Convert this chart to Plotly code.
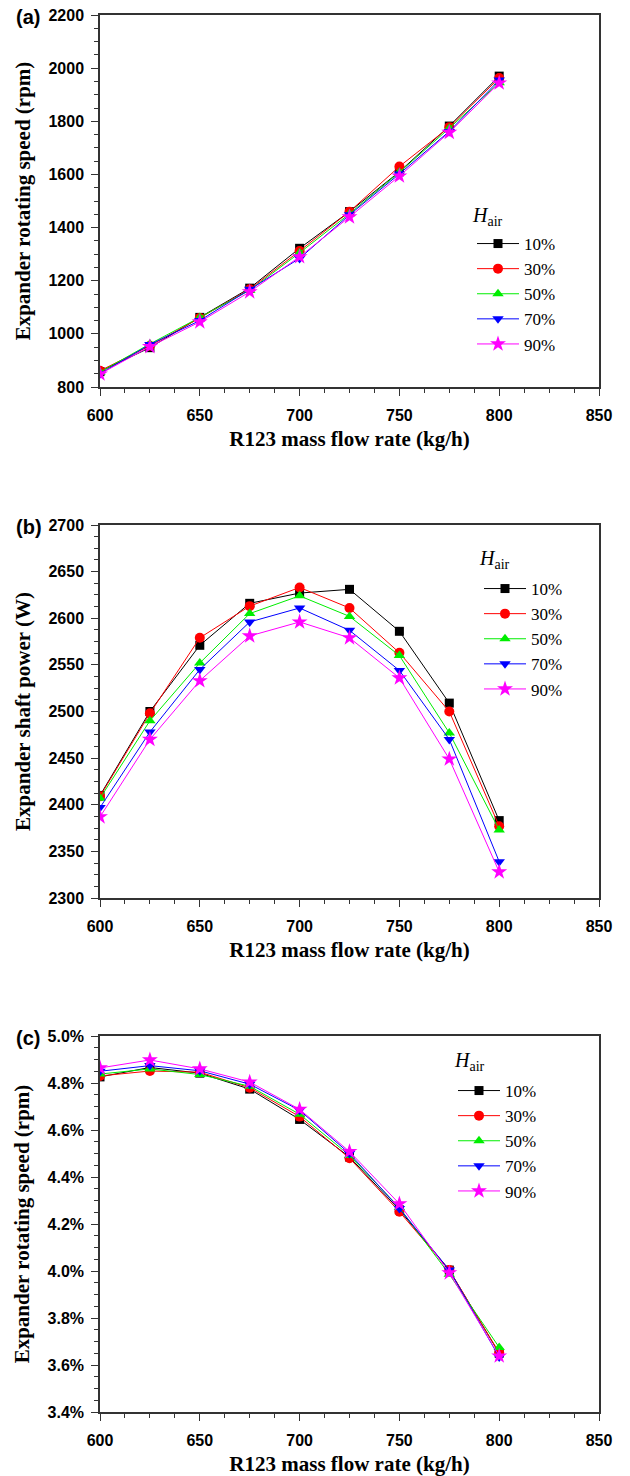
import plotly.graph_objects as go

flow = [600, 625, 650, 675, 700, 725, 750, 775, 800]
series_names = ["10%", "30%", "50%", "70%", "90%"]

speed_10 = [858, 948, 1062, 1172, 1322, 1460, 1610, 1782, 1970]
speed_30 = [861, 955, 1060, 1168, 1312, 1460, 1630, 1778, 1963]
speed_50 = [856, 962, 1062, 1164, 1305, 1452, 1608, 1774, 1945]
speed_70 = [850, 960, 1050, 1168, 1284, 1448, 1602, 1762, 1955]
speed_90 = [849, 952, 1045, 1158, 1290, 1440, 1594, 1758, 1944]

power_10 = [2410, 2500, 2571, 2616, 2627, 2631, 2586, 2509, 2383]
power_30 = [2409, 2498, 2579, 2613, 2633, 2611, 2563, 2500, 2377]
power_50 = [2407, 2490, 2552, 2605, 2624, 2602, 2560, 2477, 2373]
power_70 = [2397, 2478, 2545, 2596, 2611, 2587, 2544, 2470, 2339]
power_90 = [2387, 2470, 2533, 2581, 2596, 2579, 2536, 2449, 2328]

ratio_10 = [4.826, 4.866, 4.842, 4.774, 4.645, 4.485, 4.260, 4.004, 3.650]
ratio_30 = [4.830, 4.851, 4.846, 4.780, 4.657, 4.480, 4.252, 4.004, 3.652]
ratio_50 = [4.838, 4.860, 4.836, 4.786, 4.667, 4.492, 4.270, 3.986, 3.675]
ratio_70 = [4.850, 4.874, 4.852, 4.795, 4.684, 4.500, 4.266, 4.004, 3.634]
ratio_90 = [4.864, 4.898, 4.860, 4.804, 4.688, 4.508, 4.286, 3.992, 3.638]

colors = ["#000000", "#ff0000", "#00ee00", "#0000ff", "#ff00ff"]
symbols = ["square", "circle", "triangle-up", "triangle-down", "star"]
msizes = [9, 10, 10, 10, 12]

W, H = 630, 1476
def px_y(top, bottom):
    return [1 - bottom / H, 1 - top / H]

x_dom = [100 / W, 599 / W]
panels = [
    dict(data=[speed_10, speed_30, speed_50, speed_70, speed_90], dom=px_y(15, 387),
         rng=[800, 2200], dtick=200, minor=50, title="Expander rotating speed (rpm)",
         fmt=None, suffix="", leg=(472, 226), htitle=(470, 216), label="(a)", ltop=15),
    dict(data=[power_10, power_30, power_50, power_70, power_90], dom=px_y(525, 898),
         rng=[2300, 2700], dtick=50, minor=12.5, title="Expander shaft power (W)",
         fmt=None, suffix="", leg=(479, 571), htitle=(477, 559), label="(b)", ltop=525),
    dict(data=[ratio_10, ratio_30, ratio_50, ratio_70, ratio_90], dom=px_y(1036, 1412),
         rng=[3.4, 5.0], dtick=0.2, minor=0.05, title="Expander rotating speed (rpm)",
         fmt=".1f", suffix="%", leg=(453, 1073), htitle=(452, 1061), label="(c)", ltop=1036),
]

fig = go.Figure()
tick_font = dict(family="Liberation Sans", size=16, color="black", weight="bold")
title_font = dict(family="Liberation Serif", size=21, color="black", weight="bold")
serif = "Liberation Serif, Times New Roman, serif"

for p_i, p in enumerate(panels):
    n = "" if p_i == 0 else str(p_i + 1)
    leg_name = "legend" + n
    for s_i, ys in enumerate(p["data"]):
        fig.add_trace(go.Scatter(
            x=flow, y=ys, mode="lines+markers", name=series_names[s_i],
            line=dict(color=colors[s_i], width=1),
            marker=dict(symbol=symbols[s_i], size=msizes[s_i], color=colors[s_i],
                        line=dict(width=0)),
            xaxis="x" + n, yaxis="y" + n, legend=leg_name,
        ))
    ax_common = dict(showline=True, linecolor="#333333", linewidth=1.5, mirror=True,
                     ticks="outside", ticklen=7, tickwidth=1.2, tickcolor="#333333",
                     showgrid=False, zeroline=False, tickfont=tick_font, automargin=False)
    fig.layout["xaxis" + n] = dict(
        domain=x_dom, anchor="y" + n, range=[600, 850], dtick=50, tick0=600,
        ticklabelstandoff=6,
        minor=dict(dtick=12.5, ticklen=4, ticks="outside", tickcolor="#333333", tickwidth=1),
        title=dict(text="R123 mass flow rate (kg/h)", font=title_font, standoff=8),
        **ax_common)
    fig.layout["yaxis" + n] = dict(
        domain=p["dom"], anchor="x" + n, range=p["rng"], dtick=p["dtick"],
        tickformat=p["fmt"], ticksuffix=p["suffix"], ticklabelstandoff=4,
        minor=dict(dtick=p["minor"], ticklen=4, ticks="outside", tickcolor="#333333", tickwidth=1),
        title=dict(text=p["title"], font=title_font, standoff=12),
        **ax_common)
    lx, ly = p["leg"]
    fig.layout[leg_name] = dict(
        x=lx / W, y=1 - ly / H, xanchor="left", yanchor="top",
        bgcolor="rgba(0,0,0,0)", borderwidth=0,
        font=dict(family=serif, size=17, color="black"),
        itemwidth=42, tracegroupgap=0,
    )
    hx, hy = p["htitle"]
    fig.add_annotation(text="<i>H</i><sub>air</sub>", xref="paper", yref="paper",
                       x=hx / W, y=1 - hy / H, xanchor="left", yanchor="middle",
                       showarrow=False, font=dict(family=serif, size=20, color="black"))
    fig.add_annotation(text=p["label"], xref="paper", yref="paper",
                       x=14 / W, y=1 - (p["ltop"] + 2) / H, xanchor="left", yanchor="middle",
                       showarrow=False,
                       font=dict(family="Liberation Sans", size=20, color="black", weight="bold"))

fig.update_layout(width=W, height=H, margin=dict(l=0, r=0, t=0, b=0),
                  paper_bgcolor="white", plot_bgcolor="white", showlegend=True)
fig.write_html("out.html")
